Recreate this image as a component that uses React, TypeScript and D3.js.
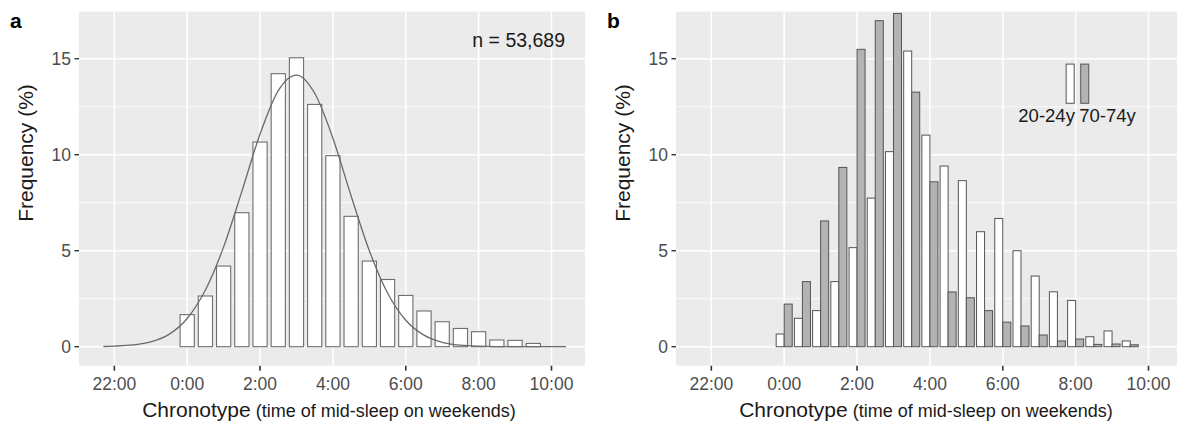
import React from "react";
import * as d3 from "d3";

// ---------- data ----------
const binHours = [0, 0.5, 1, 1.5, 2, 2.5, 3, 3.5, 4, 4.5, 5, 5.5, 6, 6.5, 7, 7.5, 8, 8.5, 9, 9.5];
const freqAll = [1.67, 2.64, 4.2, 6.98, 10.66, 14.22, 15.05, 12.62, 9.95, 6.79, 4.46, 3.5, 2.67, 1.86, 1.3, 0.95, 0.78, 0.35, 0.33, 0.17];
const freqYoung = [0.66, 1.48, 1.88, 3.39, 5.16, 7.74, 10.16, 15.4, 11.02, 9.41, 8.65, 5.99, 6.68, 5.0, 3.68, 2.86, 2.41, 0.52, 0.82, 0.3];
const freqOld = [2.22, 3.39, 6.55, 9.34, 15.49, 16.98, 17.36, 13.26, 8.59, 2.85, 2.55, 1.88, 1.28, 1.08, 0.61, 0.3, 0.4, 0.12, 0.14, 0.1];
const curveHours = [-2.3, -2, -1.5, -1, -0.5, 0, 0.5, 1, 1.5, 2, 2.5, 3, 3.5, 4, 4.5, 5, 5.5, 6, 6.5, 7, 7.5, 8, 9, 10.4];
const curveFreq = [0.01, 0.03, 0.09, 0.25, 0.64, 1.47, 2.95, 5.2, 8.09, 11.08, 13.34, 14.15, 13.2, 10.86, 7.85, 5.0, 2.8, 1.38, 0.6, 0.23, 0.08, 0.03, 0.0, 0.0];
const xTickHours = [-2, 0, 2, 4, 6, 8, 10];
const xTickLabels = ["22:00", "0:00", "2:00", "4:00", "6:00", "8:00", "10:00"];
const xTickMarkHours = [-2, 2, 6, 10];
const yTicks = [0, 5, 10, 15];
const yMinor = [2.5, 7.5, 12.5];
const legendLabels = ["20-24y", "70-74y"];
const sampleLabel = "n = 53,689";

// ---------- layout ----------
const W = 1177;
const H = 425;
const TOP = 11.7;
const BOTTOM = 365.7;
const PANEL_W = 506;
const X_DOMAIN: [number, number] = [-2.97, 10.92];
const Y_DOMAIN: [number, number] = [-0.99, 17.45];
const FONT = "'Liberation Sans', Arial, Helvetica, sans-serif";
const BG = "#ebebeb";

function Panel({ left, label, children }: { left: number; label: string; children: (x: any, y: any) => React.ReactNode }) {
  const x = d3.scaleLinear().domain(X_DOMAIN).range([left, left + PANEL_W]);
  const y = d3.scaleLinear().domain(Y_DOMAIN).range([BOTTOM, TOP]);
  const cx = left + PANEL_W / 2;
  return (
    <g>
      <rect x={left} y={TOP} width={PANEL_W} height={BOTTOM - TOP} fill={BG} />
      {yMinor.map((v) => (
        <line key={"ym" + v} x1={left} x2={left + PANEL_W} y1={y(v)} y2={y(v)} stroke="#fff" strokeWidth={0.8} />
      ))}
      {yTicks.map((v) => (
        <line key={"yM" + v} x1={left} x2={left + PANEL_W} y1={y(v)} y2={y(v)} stroke="#fff" strokeWidth={1.6} />
      ))}
      {xTickHours.map((h) => (
        <line key={"xM" + h} x1={x(h)} x2={x(h)} y1={TOP} y2={BOTTOM} stroke="#fff" strokeWidth={1.6} />
      ))}
      {children(x, y)}
      {/* y ticks */}
      {yTicks.map((v) => (
        <g key={"yt" + v}>
          <line x1={left - 4.5} x2={left} y1={y(v)} y2={y(v)} stroke="#333" strokeWidth={1.4} />
          <text x={left - 8} y={y(v)} dy="0.35em" textAnchor="end" fontSize={17.5} fill="#4d4d4d" fontFamily={FONT}>
            {v}
          </text>
        </g>
      ))}
      {/* x ticks */}
      {xTickMarkHours.map((h) => (
        <line key={"xt" + h} x1={x(h)} x2={x(h)} y1={BOTTOM} y2={BOTTOM + 5} stroke="#333" strokeWidth={1.6} />
      ))}
      {xTickHours.map((h, i) => (
        <text key={"xl" + h} x={x(h)} y={390} textAnchor="middle" fontSize={17.5} fill="#4d4d4d" fontFamily={FONT}>
          {xTickLabels[i]}
        </text>
      ))}
      {/* axis titles */}
      <text x={cx - 3} y={417} textAnchor="middle" fill="#1a1a1a" fontFamily={FONT}>
        <tspan fontSize={21}>Chronotype</tspan>
        <tspan fontSize={18}> (time of mid-sleep on weekends)</tspan>
      </text>
      <text
        transform={`translate(${left - 46},153) rotate(-90)`}
        textAnchor="middle"
        fontSize={21}
        fill="#1a1a1a"
        fontFamily={FONT}
      >
        Frequency (%)
      </text>
      <text x={left - 69} y={27.5} fontSize={21} fontWeight="bold" fill="#000" fontFamily={FONT}>
        {label}
      </text>
    </g>
  );
}

export default function App() {
  const barWA = 0.39;
  const barWB = 0.22;
  return (
    <svg width={W} height={H} style={{ position: "absolute", left: 0, top: 0, background: "#fff" }}>
      <defs>
        <clipPath id="clipB">
          <rect x={676} y={TOP} width={PANEL_W} height={BOTTOM - TOP} />
        </clipPath>
      </defs>
      <Panel left={79} label="a">
        {(x, y) => {
          const line = d3
            .line<number>()
            .x((_, i) => x(curveHours[i]))
            .y((d) => y(d))
            .curve(d3.curveMonotoneX);
          return (
            <g>
              {binHours.map((h, i) => (
                <rect
                  key={i}
                  x={x(h - barWA / 2)}
                  y={y(freqAll[i])}
                  width={x(h + barWA / 2) - x(h - barWA / 2)}
                  height={y(0) - y(freqAll[i])}
                  fill="#fff"
                  stroke="#6e6e6e"
                  strokeWidth={1.1}
                />
              ))}
              <path d={line(curveFreq) || ""} fill="none" stroke="#6a6a6a" strokeWidth={1.3} />
              <text x={x(9.1)} y={46.7} textAnchor="middle" fontSize={19.5} fill="#1a1a1a" fontFamily={FONT}>
                {sampleLabel}
              </text>
            </g>
          );
        }}
      </Panel>
      <Panel left={676} label="b">
        {(x, y) => (
          <g clipPath="url(#clipB)">
            {binHours.map((h, i) => (
              <g key={i}>
                <rect
                  x={x(h - barWB)}
                  y={y(freqYoung[i])}
                  width={x(h) - x(h - barWB)}
                  height={y(0) - y(freqYoung[i])}
                  fill="#fff"
                  stroke="#555"
                  strokeWidth={1}
                />
                <rect
                  x={x(h)}
                  y={y(freqOld[i])}
                  width={x(h + barWB) - x(h)}
                  height={y(0) - y(freqOld[i])}
                  fill="#b3b3b3"
                  stroke="#555"
                  strokeWidth={1}
                />
              </g>
            ))}
            {/* legend */}
            <rect x={x(7.85) - 4} y={y(14.72)} width={8} height={y(12.68) - y(14.72)} fill="#fff" stroke="#555" strokeWidth={1} />
            <rect x={x(8.25) - 4} y={y(14.72)} width={8} height={y(12.68) - y(14.72)} fill="#b3b3b3" stroke="#555" strokeWidth={1} />
            <text x={x(7.98)} y={y(11.72)} textAnchor="end" fontSize={18.5} fill="#1a1a1a" fontFamily={FONT}>
              {legendLabels[0]}
            </text>
            <text x={x(8.1)} y={y(11.72)} textAnchor="start" fontSize={18.5} fill="#1a1a1a" fontFamily={FONT}>
              {legendLabels[1]}
            </text>
          </g>
        )}
      </Panel>
    </svg>
  );
}
